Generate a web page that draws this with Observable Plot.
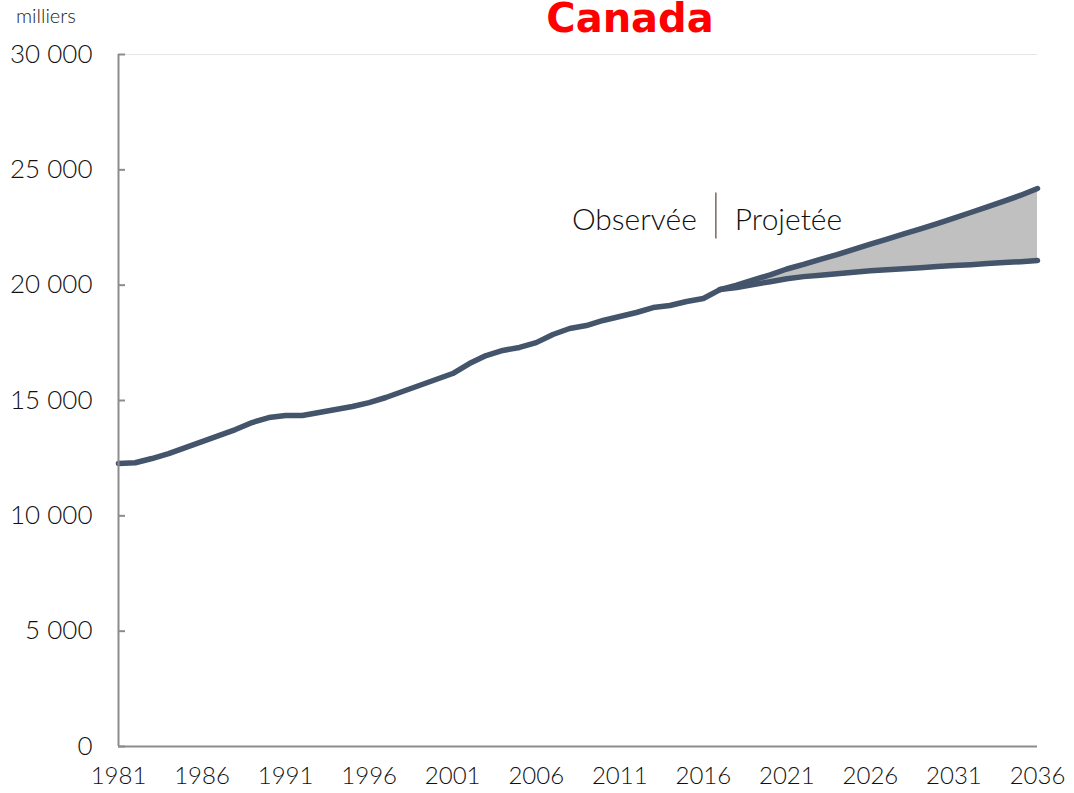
<!DOCTYPE html>
<html>
<head>
<meta charset="utf-8">
<script src="https://cdn.jsdelivr.net/npm/d3@7"></script>
<script src="https://cdn.jsdelivr.net/npm/@observablehq/plot@0.6"></script>
<style>
  html, body { margin: 0; padding: 0; background: #fff; }
  #wrap { position: relative; width: 1074px; height: 793px; overflow: hidden; font-family: Lato, "Noto Sans", sans-serif; }
  #unit { position: absolute; left: 16px; top: 3px; font-size: 20px; font-weight: 300; color: #222; }
</style>
</head>
<body>
<div id="wrap">
  <div id="chart"></div>
  <div id="unit">milliers</div>
</div>
<script>
// Observed population (thousands), 1981–2017
const obsYears = [1981,1982,1983,1984,1985,1986,1987,1988,1989,1990,1991,1992,1993,1994,1995,1996,1997,1998,1999,2000,2001,2002,2003,2004,2005,2006,2007,2008,2009,2010,2011,2012,2013,2014,2015,2016,2017];
const obsValues = [12270,12300,12485,12700,12960,13220,13480,13740,14045,14260,14350,14350,14480,14610,14740,14910,15130,15390,15650,15910,16170,16600,16950,17170,17300,17510,17860,18120,18250,18470,18640,18815,19030,19120,19290,19420,19810];

// Projected scenarios (thousands), 2017–2036
const projYears = [2017,2018,2019,2020,2021,2022,2023,2024,2025,2026,2027,2028,2029,2030,2031,2032,2033,2034,2035,2036];
const projHigh = [19810,20000,20230,20450,20700,20900,21120,21320,21550,21780,22000,22220,22440,22670,22910,23150,23390,23640,23900,24190];
const projLow  = [19810,19900,20030,20150,20280,20370,20430,20490,20560,20620,20670,20710,20760,20810,20850,20890,20940,20980,21020,21070];

const yTicks = [0,5000,10000,15000,20000,25000,30000];
const xTicks = [1981,1986,1991,1996,2001,2006,2011,2016,2021,2026,2031,2036];

const titleText = "Canada";
const labelObserved = "Observée";
const labelProjected = "Projetée";
const dividerYear = 2016.75;
const dividerRange = [22000, 24000];
const labelLevel = 22800;

const obs = obsYears.map((year, i) => ({year, value: obsValues[i]}));
const proj = projYears.map((year, i) => ({year, high: projHigh[i], low: projLow[i]}));

const fmt = v => d3.format(",")(v).replace(/,/g, " ");
const lineColor = "#44546a";
const axisColor = "#8c8c8c";
const font = "Lato, 'Noto Sans', sans-serif";

const chart = Plot.plot({
  width: 1074,
  height: 793,
  marginLeft: 118,
  marginRight: 37,
  marginTop: 54,
  marginBottom: 47,
  style: {fontFamily: font, color: "#222", background: "#fff", fontWeight: 300},
  x: {domain: [1981, 2036]},
  y: {domain: [0, 30000]},
  marks: [
    Plot.ruleY([30000], {stroke: "#e6e6e6", strokeWidth: 1}),
    Plot.areaY(proj, {x: "year", y1: "low", y2: "high", fill: "#c0c0c0"}),
    Plot.lineY(obs, {x: "year", y: "value", stroke: lineColor, strokeWidth: 5.5, strokeLinejoin: "round"}),
    Plot.lineY(proj, {x: "year", y: "high", stroke: lineColor, strokeWidth: 5.5, strokeLinejoin: "round"}),
    Plot.lineY(proj, {x: "year", y: "low", stroke: lineColor, strokeWidth: 5.5, strokeLinejoin: "round"}),
    Plot.ruleX([1981], {stroke: axisColor, strokeWidth: 2}),
    Plot.ruleY([0], {stroke: axisColor, strokeWidth: 2}),
    Plot.axisY({ticks: yTicks, tickSize: -7, stroke: axisColor, strokeWidth: 2, tickFormat: () => "", label: null}),
    Plot.axisY({ticks: yTicks, tickSize: 0, tickPadding: 26, tickFormat: fmt, fontSize: 26, fill: "#111", label: null}),
    Plot.axisX({ticks: xTicks, tickSize: 0, tickPadding: 20, tickFormat: d => String(d), fontSize: 24, fill: "#111", label: null}),
    Plot.ruleX([dividerYear], {y1: dividerRange[0], y2: dividerRange[1], stroke: "#7a6a58", strokeWidth: 1.5}),
    Plot.text([labelObserved], {x: dividerYear, y: labelLevel, text: d => d, textAnchor: "end", dx: -19, fontSize: 30, fill: "#111"}),
    Plot.text([labelProjected], {x: dividerYear, y: labelLevel, text: d => d, textAnchor: "start", dx: 19, fontSize: 30, fill: "#111"}),
    Plot.text([titleText], {frameAnchor: "top", text: d => d, dx: 52, dy: -23, lineAnchor: "bottom", fontSize: 40, fontWeight: "bold", fontFamily: "'DejaVu Sans', sans-serif", fill: "#ff0000"})
  ]
});
document.getElementById("chart").appendChild(chart);
</script>
</body>
</html>
